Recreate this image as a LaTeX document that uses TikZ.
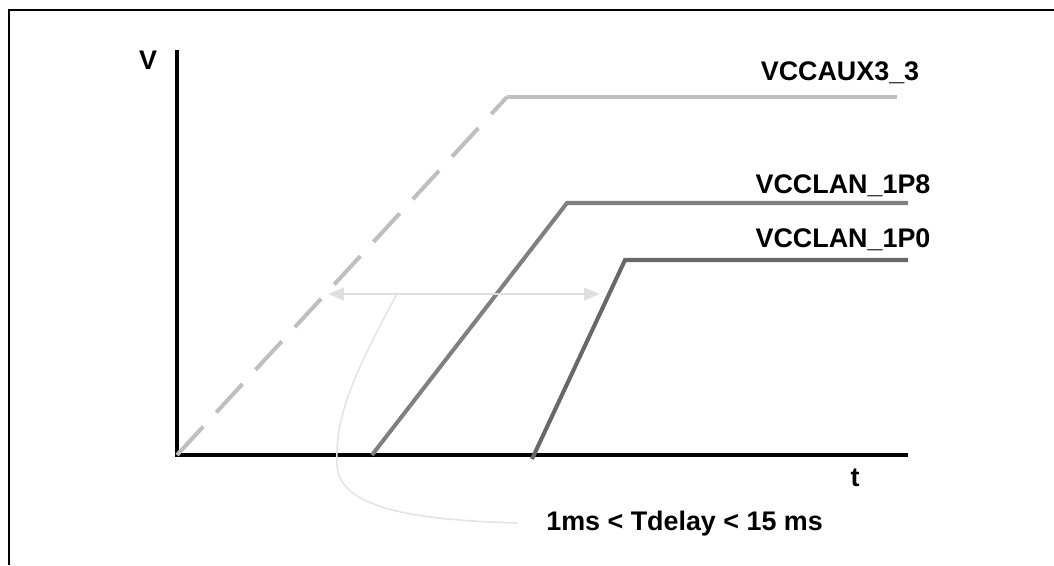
\documentclass[tikz,border=0pt]{standalone}
\usepackage{fontspec}
\setmainfont{Liberation Sans}
\usetikzlibrary{arrows.meta}

\tikzset{
  lbl/.style={font=\fontsize{15.3}{18}\selectfont\bfseries, inner sep=0pt},
  rail/.style={line width=2.3pt, line join=miter},
}

\begin{document}
\begin{tikzpicture}[x=0.02cm, y=-0.02cm]
  \useasboundingbox (0,0) rectangle (1054,565);
  \draw[line width=1.2pt] (9,565) -- (9,10) -- (1054,10);

  \coordinate (o) at (177,455);
  \coordinate (ytop) at (177,50);
  \coordinate (xend) at (908,455);
  \draw[line width=1.8pt] (ytop) -- (177,457);
  \draw[line width=1.8pt] (176,455) -- (xend);
  \node[lbl] (v) at (148,60) {V};
  \node[lbl] (t) at (855,478) {t};

  \coordinate (a0) at (o);
  \coordinate (a1) at (507,97);
  \coordinate (a2) at (897,97);
  \draw[rail, color={rgb,255:red,191;green,191;blue,191}, dash pattern=on 22pt off 11pt] (a0) -- (a1);
  \draw[rail, color={rgb,255:red,191;green,191;blue,191}] (a1) -- (a2);
  \node[lbl] (vaux) at (840,73) {VCCAUX3\_3};

  \coordinate (b0) at (372,455);
  \coordinate (b1) at (567,203);
  \coordinate (b2) at (908,203);
  \draw[rail, color={rgb,255:red,128;green,128;blue,128}] (b0) -- (b1) -- (b2);
  \node[lbl] (v18) at (843,186) {VCCLAN\_1P8};

  \coordinate (c0) at (532,459);
  \coordinate (c1) at (625,260);
  \coordinate (c2) at (908,260);
  \draw[rail, color={rgb,255:red,104;green,104;blue,104}] (c0) -- (c1) -- (c2);
  \node[lbl] (v10) at (843,240) {VCCLAN\_1P0};

  \coordinate (dl) at (328,294);
  \coordinate (dr) at (600,294);
  \coordinate (dm) at (397,294);
  \draw[line width=1.1pt, color={rgb,255:red,222;green,222;blue,222},
        {Triangle[length=9pt,width=7pt]}-{Triangle[length=9pt,width=7pt]}] (dl) -- (dr);

  \node[lbl, anchor=west] (td) at (546,524) {1ms < Tdelay < 15 ms};
  \coordinate (tend) at (517,523);
  \draw[line width=0.9pt, color={rgb,255:red,228;green,228;blue,228}]
    (dm) .. controls (350,380) and (335,420) .. (337,465)
         .. controls (339,510) and (420,520) .. (tend);
\end{tikzpicture}
\end{document}
